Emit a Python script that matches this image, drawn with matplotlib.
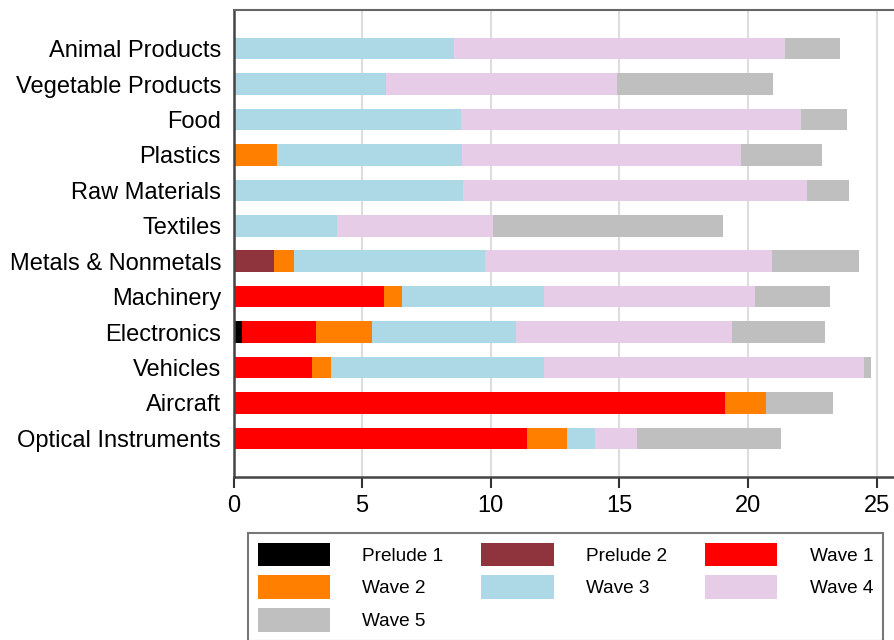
import matplotlib
matplotlib.use('Agg')
import matplotlib.pyplot as plt
import numpy as np

plt.rcParams['font.family'] = ['Liberation Sans', 'DejaVu Sans']

categories = ['Animal Products', 'Vegetable Products', 'Food', 'Plastics',
              'Raw Materials', 'Textiles', 'Metals & Nonmetals', 'Machinery',
              'Electronics', 'Vehicles', 'Aircraft', 'Optical Instruments']

series_names = ['Prelude 1', 'Prelude 2', 'Wave 1', 'Wave 2', 'Wave 3', 'Wave 4', 'Wave 5']

prelude1 = [0, 0, 0, 0, 0, 0, 0, 0.05, 0.33, 0, 0, 0]
prelude2 = [0, 0, 0, 0, 0, 0, 1.58, 0, 0, 0, 0, 0]
wave1 = [0, 0, 0, 0.05, 0.05, 0, 0, 5.81, 2.86, 3.05, 19.11, 11.41]
wave2 = [0, 0, 0, 1.64, 0, 0, 0.78, 0.71, 2.20, 0.73, 1.59, 1.55]
wave3 = [8.58, 5.94, 8.83, 7.20, 8.87, 4.03, 7.41, 5.49, 5.58, 8.30, 0, 1.09]
wave4 = [12.87, 8.96, 13.23, 10.83, 13.36, 6.06, 11.15, 8.21, 8.42, 12.42, 0, 1.64]
wave5 = [2.14, 6.07, 1.78, 3.17, 1.66, 8.95, 3.40, 2.91, 3.59, 0.30, 2.62, 5.59]

colors = ['#000000', '#8f343d', '#ff0000', '#ff7f00', '#add8e6', '#e6cce6', '#bfbfbf']

fig = plt.figure(figsize=(8.94, 6.4), dpi=100)
ax = fig.add_axes([0.2612, 0.2547, 0.7388, 0.7297])

y = np.arange(len(categories))
left = np.zeros(len(categories))
bars = []
for name, vals, col in zip(series_names,
                           [prelude1, prelude2, wave1, wave2, wave3, wave4, wave5],
                           colors):
    vals = np.array(vals)
    bars.append(ax.barh(y, vals, left=left, height=0.61, color=col, label=name, zorder=2))
    left += vals

ax.set_ylim(len(categories) - 1 + 1.09, -1.09)
ax.set_xlim(0, 25.68)
ax.set_yticks(y)
ax.set_yticklabels(categories, fontsize=17)
ax.set_xticks([0, 5, 10, 15, 20, 25])
ax.tick_params(axis='x', labelsize=17, length=8, width=1.5, color='#333333', pad=5)
ax.tick_params(axis='y', length=0, pad=9)
ax.grid(axis='x', color='#dddddd', linewidth=1.5, zorder=0)
ax.set_axisbelow(True)

ax.spines['right'].set_visible(False)
for side in ['left', 'bottom']:
    ax.spines[side].set_color('#444444')
    ax.spines[side].set_linewidth(1.8)
ax.spines['top'].set_color('#666666')
ax.spines['top'].set_linewidth(1.5)

# legend reads row by row, matplotlib fills by column
order = [0, 3, 6, 1, 4, 2, 5]
leg = fig.legend([bars[i] for i in order], [series_names[i] for i in order],
                 loc='upper left', bbox_to_anchor=(248 / 894, 1 - 533 / 640),
                 ncol=3, fontsize=13.7, frameon=True, fancybox=False,
                 handlelength=3.8, handleheight=1.52, handletextpad=1.7,
                 columnspacing=2.0, labelspacing=0.5, borderpad=0.5,
                 borderaxespad=0)
leg.get_frame().set_edgecolor('#555555')
leg.get_frame().set_linewidth(1.5)

fig.savefig('out.png', dpi=100)
